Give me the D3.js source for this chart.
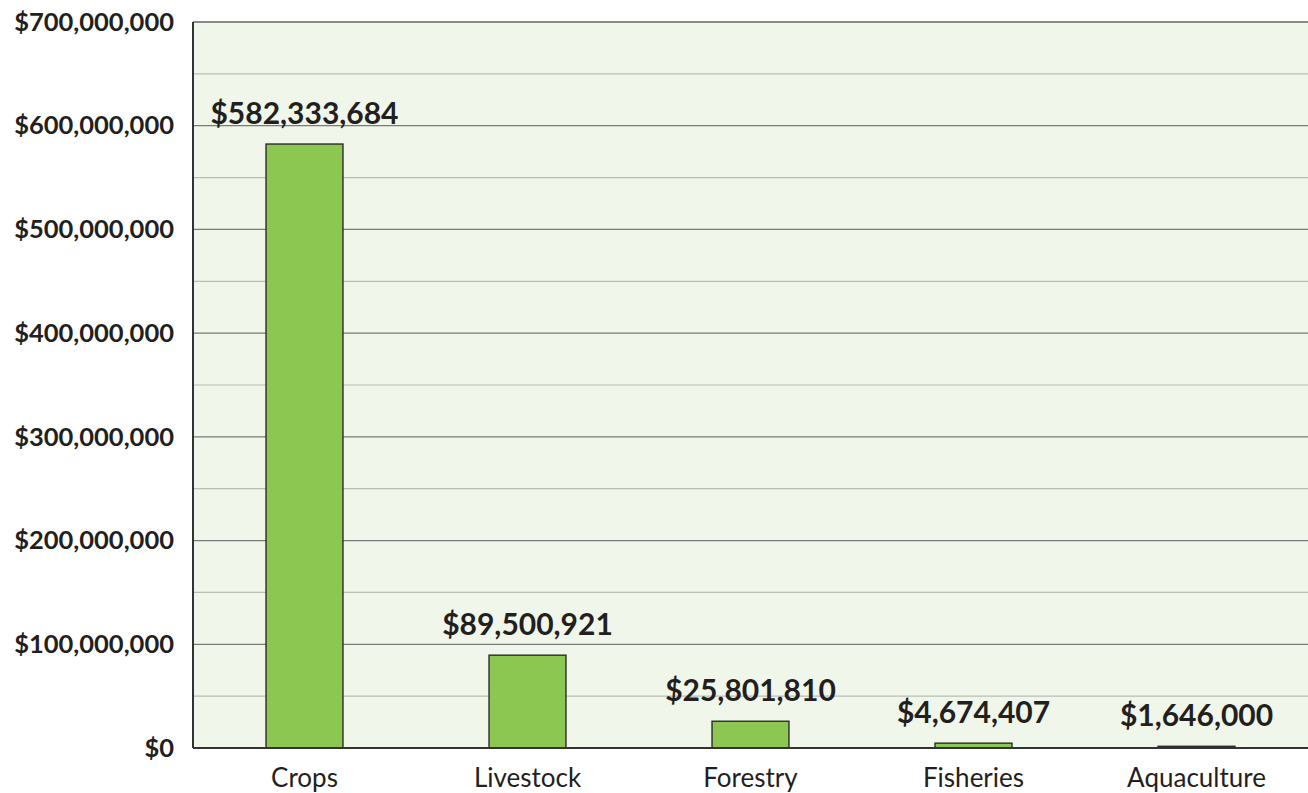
<!DOCTYPE html>
<html lang="en">
<head>
<meta charset="UTF-8">
<title>Value by sector</title>
<style>
  body { margin: 0; background: #fff; }
  svg { display: block; font-family: "Lato", "Noto Sans", sans-serif; }
  .grid-major { stroke: #7a7a7a; stroke-width: 1.2px; }
  .grid-minor { stroke: #b9bdb6; stroke-width: 1.2px; }
  .bar { fill: #8bc751; stroke: #2b2b2b; stroke-width: 1.4px; }
  .ytick { font-family: "Lato", sans-serif; font-size: 25.5px; font-weight: 700; fill: #231f20; }
  .xtick { font-family: "Lato", sans-serif; font-size: 26px; font-weight: 400; fill: #231f20; }
  .value { font-family: "Lato", sans-serif; font-size: 30px; font-weight: 700; fill: #231f20; }
</style>
</head>
<body>
<div id="chart"></div>
<script src="https://cdnjs.cloudflare.com/ajax/libs/d3/7.8.5/d3.min.js"></script>
<script>
  var categories = ['Crops', 'Livestock', 'Forestry', 'Fisheries', 'Aquaculture'];
  var values = [582333684, 89500921, 25801810, 4674407, 1646000];
  var majorTicks = [0, 100000000, 200000000, 300000000, 400000000, 500000000, 600000000, 700000000];
  var minorTicks = [50000000, 150000000, 250000000, 350000000, 450000000, 550000000, 650000000];

  var width = 1308,
    height = 793,
    margin = {top: 22, right: 0, bottom: 45, left: 193},
    innerWidth = width - margin.left - margin.right,
    innerHeight = height - margin.top - margin.bottom;

  var svg = d3.select('#chart').append('svg')
    .attr('width', width)
    .attr('height', height);

  var canvas = svg.append('g')
    .attr('transform', 'translate(' + margin.left + ',' + margin.top + ')');

  var x = d3.scaleBand()
    .domain(categories)
    .range([0, innerWidth])
    .paddingInner(0.655)
    .paddingOuter(0.3275);

  var y = d3.scaleLinear()
    .domain([0, 700000000])
    .range([innerHeight, 0]);

  var money = function(v) { return '$' + d3.format(',')(v); };

  canvas.append('rect')
    .attr('width', innerWidth)
    .attr('height', innerHeight)
    .attr('fill', '#f0f6ea');

  canvas.selectAll('.grid-minor')
    .data(minorTicks)
    .enter().append('line')
    .attr('class', 'grid-minor')
    .attr('x1', 0).attr('x2', innerWidth)
    .attr('y1', function(d) { return y(d); })
    .attr('y2', function(d) { return y(d); });

  canvas.selectAll('.grid-major')
    .data(majorTicks.slice(1))
    .enter().append('line')
    .attr('class', 'grid-major')
    .attr('x1', 0).attr('x2', innerWidth)
    .attr('y1', function(d) { return y(d); })
    .attr('y2', function(d) { return y(d); })
    .style('stroke', function(d) { return d === 700000000 ? '#8a8a8a' : null; })
    .style('stroke-width', function(d) { return d === 700000000 ? '2px' : null; });

  canvas.selectAll('.bar')
    .data(values)
    .enter().append('rect')
    .attr('class', 'bar')
    .attr('x', function(d, i) { return x(categories[i]); })
    .attr('width', x.bandwidth())
    .attr('y', function(d) { return y(d); })
    .attr('height', function(d) { return innerHeight - y(d); });

  canvas.selectAll('.value')
    .data(values)
    .enter().append('text')
    .attr('class', 'value')
    .attr('text-anchor', 'middle')
    .attr('x', function(d, i) { return x(categories[i]) + x.bandwidth() / 2; })
    .attr('y', function(d) { return y(d) - 20; })
    .text(money);

  // axes lines
  canvas.append('line')
    .attr('x1', 0).attr('x2', 0)
    .attr('y1', 0).attr('y2', innerHeight)
    .attr('stroke', '#333').attr('stroke-width', 2);
  canvas.append('line')
    .attr('x1', 0).attr('x2', innerWidth)
    .attr('y1', innerHeight).attr('y2', innerHeight)
    .attr('stroke', '#333').attr('stroke-width', 2);

  var yAxis = d3.axisLeft(y)
    .tickValues(majorTicks)
    .tickSize(0)
    .tickPadding(19)
    .tickFormat(money);
  var gy = canvas.append('g').call(yAxis);
  gy.attr('font-family', null).attr('font-size', null);
  gy.select('.domain').remove();
  gy.selectAll('text').attr('class', 'ytick').attr('fill', null);

  var xAxis = d3.axisBottom(x).tickSize(0).tickPadding(21);
  var gx = canvas.append('g')
    .attr('transform', 'translate(0,' + innerHeight + ')')
    .call(xAxis);
  gx.attr('font-family', null).attr('font-size', null);
  gx.select('.domain').remove();
  gx.selectAll('text').attr('class', 'xtick').attr('fill', null);
</script>
</body>
</html>
